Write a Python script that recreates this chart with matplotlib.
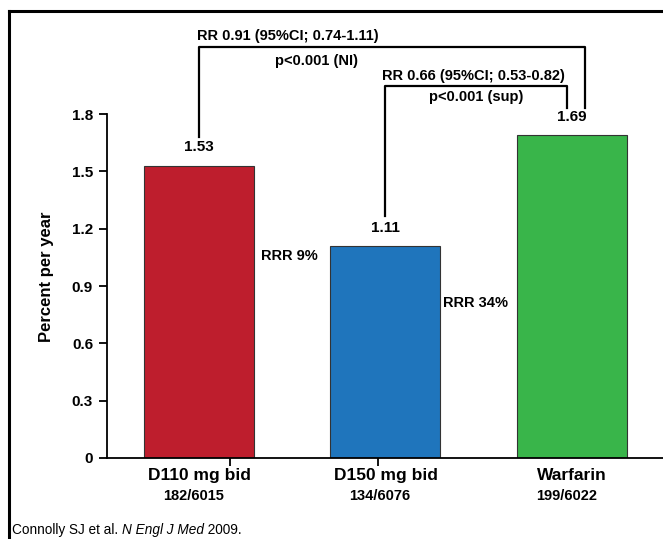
import numpy as np
import matplotlib.pyplot as plt
from matplotlib.lines import Line2D

plt.rcParams['font.family'] = ['Liberation Sans', 'DejaVu Sans']

groups = ["D110 mg bid", "D150 mg bid", "Warfarin"]
counts = ["182/6015", "134/6076", "199/6022"]
rates = [1.53, 1.11, 1.69]
colors = ["#BE1E2D", "#1F75BC", "#39B54A"]
rrr_labels = ["RRR 9%", "RRR 34%"]
rr_texts = ["RR 0.91 (95%CI; 0.74-1.11)", "RR 0.66 (95%CI; 0.53-0.82)"]
p_texts = ["p<0.001 (NI)", "p<0.001 (sup)"]
yticks = [0, 0.3, 0.6, 0.9, 1.2, 1.5, 1.8]

fig = plt.figure(figsize=(6.63, 5.39), dpi=100)
ax = fig.add_axes([0.1614, 0.1503, 0.8386, 0.8126])

x = np.arange(len(groups))
ax.bar(x, rates, width=0.59, color=colors, edgecolor="#333333", linewidth=0.8, zorder=2)

ax.set_xlim(-0.493, 2.488)
ax.set_ylim(0, 2.293)

for s in ["top", "right"]:
    ax.spines[s].set_visible(False)
ax.spines["left"].set_bounds(0, 1.8)
ax.spines["left"].set_linewidth(1.3)
ax.spines["bottom"].set_linewidth(1.3)

ax.set_yticks(yticks)
ax.set_yticklabels(["0", "0.3", "0.6", "0.9", "1.2", "1.5", "1.8"],
                   fontsize=11, fontweight="bold")
ax.tick_params(axis="y", length=6, width=1.3, pad=4)
ax.set_xticks(x)
ax.set_xticklabels([])
ax.tick_params(axis="x", which="major", length=0)
ax.set_xticks([0.166, 0.96], minor=True)
ax.tick_params(axis="x", which="minor", length=6, width=1.3, direction="out")

for i in range(len(groups)):
    ax.text(x[i], -0.09, groups[i], ha="center", va="center",
            fontsize=12.5, fontweight="bold")
    ax.text(x[i] - 0.03, -0.2, counts[i], ha="center", va="center",
            fontsize=10.5, fontweight="bold")
    ax.text(x[i], rates[i] + 0.06, f"{rates[i]:.2f}", ha="center", va="bottom",
            fontsize=11, fontweight="bold")

ax.set_ylabel("Percent per year", fontsize=12, fontweight="bold")
ax.yaxis.set_label_coords(-0.095, 0.413)

# RRR annotations
ax.text(0.335, 1.06, rrr_labels[0], ha="left", va="center", fontsize=10.5, fontweight="bold")
ax.text(1.31, 0.81, rrr_labels[1], ha="left", va="center", fontsize=10.5, fontweight="bold")

# comparison brackets
bk = dict(color="black", lw=1.6, clip_on=False)
ax.plot([x[0], x[0], 2.07, 2.07], [rates[0] + 0.15, 2.152, 2.152, rates[2] + 0.14], **bk)
ax.plot([x[1], x[1], 1.973, 1.973], [rates[1] + 0.157, 1.948, 1.948, rates[2] + 0.14], **bk)

ax.text(-0.01, 2.21, rr_texts[0], ha="left", va="center", fontsize=10.5, fontweight="bold")
ax.text(0.63, 2.08, p_texts[0], ha="center", va="center", fontsize=10.5, fontweight="bold")
ax.text(0.98, 2.0, rr_texts[1], ha="left", va="center", fontsize=10.5, fontweight="bold")
ax.text(1.485, 1.89, p_texts[1], ha="center", va="center", fontsize=10.5, fontweight="bold")

# slide frame
fig.add_artist(Line2D([9 / 663, 9 / 663], [0, 1 - 11 / 539], color="black", lw=2.2))
fig.add_artist(Line2D([9 / 663, 1], [1 - 11 / 539, 1 - 11 / 539], color="black", lw=2.2))

# citation, pieces placed one after another
r = fig.canvas.get_renderer()
xpos = 12 / 663
for piece, st in [("Connolly SJ et al. ", "normal"), ("N Engl J Med", "italic"), (" 2009.", "normal")]:
    t = fig.text(xpos, 9 / 539, piece, fontsize=9.8, style=st, va="center", ha="left")
    xpos += t.get_window_extent(renderer=r).width / (fig.get_figwidth() * fig.dpi)

fig.savefig("out.png", dpi=100)
